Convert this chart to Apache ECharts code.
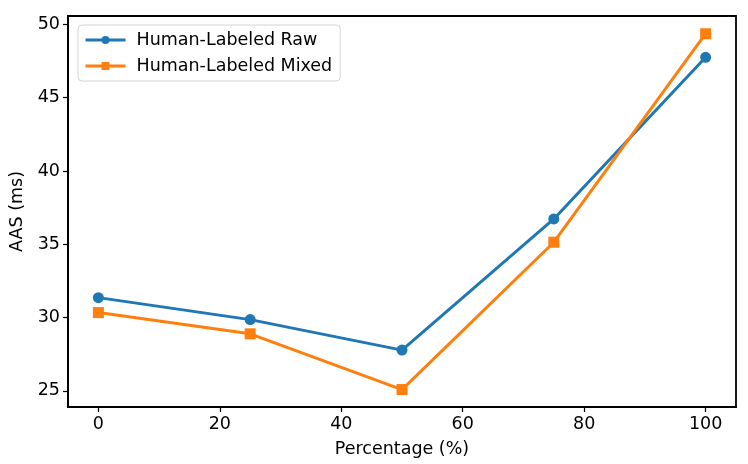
<html>
<head>
<meta charset="utf-8">
<title>AAS vs Percentage</title>
<script src="https://cdn.jsdelivr.net/npm/echarts@6/dist/echarts.min.js"></script>
<style>
  html, body { margin: 0; padding: 0; background: #fff; }
</style>
</head>
<body>
<div id="chartmain" style="width: 748px; height: 464px;"></div>
<script type="text/javascript">
    // data
    var percentages = [0, 25, 50, 75, 100];
    var rawValues = [31.36, 29.86, 27.78, 36.73, 47.75];
    var mixedValues = [30.34, 28.89, 25.09, 35.14, 49.36];
    var xTicks = [0, 20, 40, 60, 80, 100];
    var yTicks = [25, 30, 35, 40, 45, 50];
    var seriesNames = ['Human-Labeled Raw', 'Human-Labeled Mixed'];

    function pairs(xs, ys) {
        var out = [];
        for (var i = 0; i < xs.length; i++) {
            out.push([xs[i], ys[i]]);
        }
        return out;
    }

    var font = 'DejaVu Sans';
    var fs = 17.5;
    var myChart = echarts.init(document.getElementById('chartmain'), null, { renderer: 'canvas' });

    var option = {
        animation: false,
        backgroundColor: '#fff',
        textStyle: { fontFamily: font },
        grid: {
            left: 68, right: 12, top: 16, bottom: 57,
            containLabel: false,
            outerBoundsMode: 'none',
            show: true, borderColor: '#000', borderWidth: 1.8,
            backgroundColor: 'transparent'
        },
        legend: {
            left: 78, top: 25,
            orient: 'vertical',
            itemWidth: 40, itemHeight: 10, itemGap: 8,
            padding: [6, 8, 6, 6],
            backgroundColor: 'rgba(255,255,255,0.8)',
            borderColor: '#d4d4d4', borderWidth: 1, borderRadius: 4,
            lineStyle: { width: 3 },
            textStyle: { fontFamily: font, fontSize: fs, color: '#000', padding: [0, 0, 0, 6] },
            data: seriesNames
        },
        xAxis: {
            type: 'value',
            min: -5, max: 105,
            name: 'Percentage (%)',
            nameLocation: 'middle',
            nameGap: 33,
            nameTextStyle: { fontFamily: font, fontSize: fs, color: '#000' },
            axisLine: { show: true, onZero: false, lineStyle: { color: '#000', width: 1.8 } },
            axisTick: { show: true, inside: false, length: 5, customValues: xTicks, lineStyle: { color: '#000', width: 1.2 } },
            axisLabel: { customValues: xTicks, color: '#000', fontSize: fs, fontFamily: font, margin: 8 },
            splitLine: { show: false }
        },
        yAxis: {
            type: 'value',
            min: 23.9, max: 50.57,
            name: 'AAS (ms)',
            nameLocation: 'middle',
            nameGap: 42,
            nameRotate: 90,
            nameTextStyle: { fontFamily: font, fontSize: fs, color: '#000' },
            axisLine: { show: true, onZero: false, lineStyle: { color: '#000', width: 1.8 } },
            axisTick: { show: true, inside: false, length: 5, customValues: yTicks, lineStyle: { color: '#000', width: 1.2 } },
            axisLabel: { customValues: yTicks, color: '#000', fontSize: fs, fontFamily: font, margin: 8 },
            splitLine: { show: false }
        },
        series: [
            {
                name: seriesNames[0],
                type: 'line',
                data: pairs(percentages, rawValues),
                symbol: 'circle',
                symbolSize: 11,
                lineStyle: { color: '#1f77b4', width: 3 },
                itemStyle: { color: '#1f77b4' },
                z: 2
            },
            {
                name: seriesNames[1],
                type: 'line',
                data: pairs(percentages, mixedValues),
                symbol: 'rect',
                symbolSize: 11,
                lineStyle: { color: '#ff7f0e', width: 3 },
                itemStyle: { color: '#ff7f0e' },
                z: 3
            }
        ]
    };

    myChart.setOption(option);
</script>
</body>
</html>
